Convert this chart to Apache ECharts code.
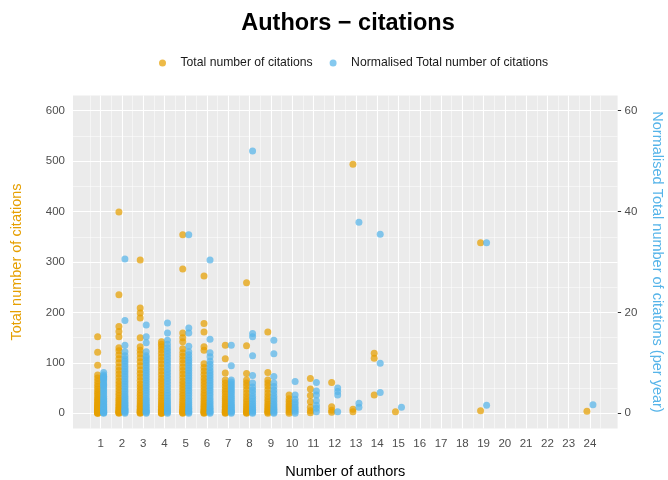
<!DOCTYPE html>
<html>
<head>
<meta charset="utf-8">
<script src="https://cdn.jsdelivr.net/npm/echarts@6/dist/echarts.min.js"></script>
<style>html,body{margin:0;padding:0;background:#fff}#chart{width:668px;height:480px}</style>
</head>
<body>
<div id="chart"></div>
<script>
// ---- data ----
const authorTicks = [1,2,3,4,5,6,7,8,9,10,11,12,13,14,15,16,17,18,19,20,21,22,23,24];
const leftTicks = [0,100,200,300,400,500,600];
const rightTicks = [0,20,40,60];
const groupAuthors = [1,2,3,4,5,6,7,8,9,10,11,12,13,14,15,19,24];
const totalByGroup = [
  [0,0,1,2,3,4,5,6,8,9,11,13,15,17,19,22,25,28,31,35,39,43,48,53,58,64,70,76,95,121,152],
  [0,1,2,3,5,7,9,12,15,18,22,26,30,35,40,46,52,58,64,71,78,85,92,100,108,116,124,130,152,162,172,235,399],
  [0,1,2,4,6,8,11,14,17,21,25,30,35,40,46,52,58,65,72,79,86,94,102,110,118,125,132,150,189,199,209,304],
  [0,0,1,2,4,6,8,11,14,17,21,25,30,35,40,46,52,58,64,70,77,84,91,98,105,112,119,126,132,137,142],
  [0,1,2,4,6,8,11,14,17,21,25,30,35,40,46,52,58,64,71,78,85,92,99,106,113,120,128,142,150,159,286,354],
  [0,1,2,4,6,8,11,14,17,21,25,30,35,40,46,52,58,64,70,77,84,91,98,125,132,161,178,272],
  [0,1,2,4,6,8,11,14,17,21,25,29,33,38,43,48,54,60,66,80,108,135],
  [0,1,2,4,7,10,14,18,23,28,34,40,47,54,60,66,79,134,259],
  [0,2,4,7,10,14,18,23,28,34,40,47,54,60,66,81,161],
  [0,3,7,11,15,19,24,29,36],
  [1,5,12,23,35,48,69],
  [2,6,13,61],
  [3,8,494],
  [36,109,119],
  [3],
  [5,338],
  [4]
];
const normByGroup = [
  [0,0.1,0.2,0.4,0.5,0.7,0.9,1.1,1.3,1.5,1.8,2.1,2.4,2.7,3.0,3.4,3.8,4.2,4.6,5.0,5.4,5.8,6.2,6.6,7.0,7.3,7.6,6.8,5.6,7.2,8.1],
  [0,0.2,0.4,0.6,0.8,1.0,1.3,1.6,1.9,2.2,2.6,3.0,3.4,3.8,4.3,4.8,5.3,5.8,6.3,6.8,7.3,7.8,8.3,8.8,9.3,9.8,10.3,10.8,11.4,12.2,13.5,18.4,30.6],
  [0,0.2,0.4,0.6,0.9,1.2,1.5,1.8,2.2,2.6,3.0,3.5,4.0,4.5,5.0,5.5,6.0,6.5,7.0,7.5,8.0,8.5,9.0,9.5,10.0,10.5,11.0,11.4,12.2,14.0,15.2,17.5],
  [0,0.2,0.4,0.7,1.0,1.3,1.7,2.1,2.5,3.0,3.5,4.0,4.6,5.2,5.8,6.4,7.0,7.6,8.2,8.8,9.4,10.0,10.6,11.2,11.8,12.4,13.0,13.7,14.5,15.9,17.9],
  [0,0.2,0.4,0.7,1.0,1.3,1.7,2.1,2.5,3.0,3.5,4.0,4.5,5.0,5.5,6.0,6.5,7.0,7.5,8.0,8.5,9.0,9.5,10.0,10.5,11.0,11.6,12.2,13.3,15.9,16.9,35.4],
  [0,0.2,0.4,0.7,1.0,1.3,1.7,2.1,2.5,3.0,3.5,4.0,4.5,5.0,5.5,6.0,6.5,7.0,7.5,8.0,8.5,9.1,9.7,10.3,11.2,12.0,14.7,30.4],
  [0,0.2,0.4,0.6,0.9,1.2,1.5,1.8,2.2,2.6,3.0,3.4,3.8,4.2,4.6,5.0,5.4,5.8,6.2,6.6,9.4,13.5],
  [0,0.2,0.5,0.8,1.1,1.5,1.9,2.4,2.9,3.4,4.0,4.6,5.2,6.0,7.5,11.4,15.2,15.8,52.0],
  [0,0.2,0.5,0.8,1.1,1.5,1.9,2.4,2.9,3.4,4.0,4.6,5.3,6.0,7.3,11.8,14.5],
  [0,0.4,0.8,1.2,1.7,2.2,2.8,3.6,6.3],
  [0.3,1.0,1.6,2.5,3.6,4.4,6.1],
  [0.3,3.6,4.3,5.0],
  [1.2,2.0,37.9],
  [4.1,9.9,35.5],
  [1.2],
  [1.6,33.8],
  [1.7]
];

// ---- build ----
function flatten(groups) {
  const out = [];
  groups.forEach((vals, i) => vals.forEach(v => out.push([groupAuthors[i], v])));
  return out;
}
const totalData = flatten(totalByGroup);
const normData = flatten(normByGroup);

const xMinor = authorTicks.map(v => v - 0.5).concat([authorTicks[authorTicks.length - 1] + 0.5]);
const yMinor = leftTicks.slice(0, -1).map(v => v + 50);
const majorStyle = {color: '#FFFFFF', width: 1.1, type: 'solid'};
const minorStyle = {color: '#FFFFFF', width: 0.5, type: 'solid'};
const gridLines = []
  .concat(xMinor.map(v => ({xAxis: v, lineStyle: minorStyle})))
  .concat(yMinor.map(v => ({yAxis: v, lineStyle: minorStyle})))
  .concat(authorTicks.map(v => ({xAxis: v, lineStyle: majorStyle})))
  .concat(leftTicks.map(v => ({yAxis: v, lineStyle: majorStyle})));

const FONT = 'Liberation Sans';
const ORANGE = '#E69F00';
const BLUE = '#56B4E9';

const chart = echarts.init(document.getElementById('chart'), null, {renderer: 'canvas'});
chart.setOption({
  animation: false,
  textStyle: {fontFamily: FONT},
  title: {
    text: 'Authors \u2212 citations',
    left: 343, top: 7, textAlign: 'center',
    textStyle: {fontFamily: FONT, fontSize: 23.5, fontWeight: 'bold', color: '#000'}
  },
  legend: {
    left: 154, top: 52,
    icon: 'circle', itemWidth: 26, itemHeight: 7, itemGap: 17,
    textStyle: {fontFamily: FONT, fontSize: 12.2, color: '#1a1a1a'},
    data: ['Total number of citations', 'Normalised Total number of citations']
  },
  grid: {
    left: 73, right: 50.4, top: 95.6, bottom: 51.6,
    containLabel: false, outerBoundsMode: 'none',
    show: true, backgroundColor: '#EBEBEB', borderWidth: 0
  },
  xAxis: {
    type: 'value', min: -0.3, max: 25.3,
    name: 'Number of authors', nameLocation: 'middle', nameGap: 36,
    nameTextStyle: {fontFamily: FONT, fontSize: 14.5, color: '#000'},
    axisLine: {show: false},
    axisTick: {show: true, length: 3.5, customValues: authorTicks, lineStyle: {color: '#333333', width: 1}},
    axisLabel: {customValues: authorTicks, margin: 9, fontFamily: FONT, fontSize: 11.5, color: '#4D4D4D'},
    splitLine: {show: false}
  },
  yAxis: [{
    type: 'value', min: -30, max: 630, position: 'left',
    name: 'Total number of citations', nameLocation: 'middle', nameGap: 49,
    nameTextStyle: {fontFamily: FONT, fontSize: 14.5, color: ORANGE},
    axisLine: {show: false},
    axisTick: {show: true, length: 3.5, customValues: leftTicks, lineStyle: {color: '#333333', width: 1}},
    axisLabel: {customValues: leftTicks, margin: 8, fontFamily: FONT, fontSize: 11.5, color: '#4D4D4D'},
    splitLine: {show: false}
  }, {
    type: 'value', min: -3, max: 63, position: 'right',
    name: 'Normalised Total number of citations (per year)', nameLocation: 'middle', nameGap: 32, nameRotate: -90,
    nameTextStyle: {fontFamily: FONT, fontSize: 14.5, color: BLUE},
    axisLine: {show: false},
    axisTick: {show: true, length: 3.5, customValues: rightTicks, lineStyle: {color: '#333333', width: 1}},
    axisLabel: {customValues: rightTicks, margin: 7, fontFamily: FONT, fontSize: 11.5, color: '#4D4D4D'},
    splitLine: {show: false}
  }],
  series: [{
    name: 'grid', type: 'scatter', data: [], z: 1, silent: true,
    xAxisIndex: 0, yAxisIndex: 0,
    markLine: {silent: true, z: 1, symbol: ['none', 'none'], label: {show: false},
      emphasis: {disabled: true}, animation: false, data: gridLines}
  }, {
    name: 'Total number of citations', type: 'scatter', z: 3,
    xAxisIndex: 0, yAxisIndex: 0,
    symbol: 'circle', symbolSize: 7, symbolOffset: [-3, 0],
    itemStyle: {color: ORANGE, opacity: 0.72},
    data: totalData
  }, {
    name: 'Normalised Total number of citations', type: 'scatter', z: 3,
    xAxisIndex: 0, yAxisIndex: 1,
    symbol: 'circle', symbolSize: 7, symbolOffset: [3, 0],
    itemStyle: {color: BLUE, opacity: 0.72},
    data: normData
  }]
});
</script>
</body>
</html>
